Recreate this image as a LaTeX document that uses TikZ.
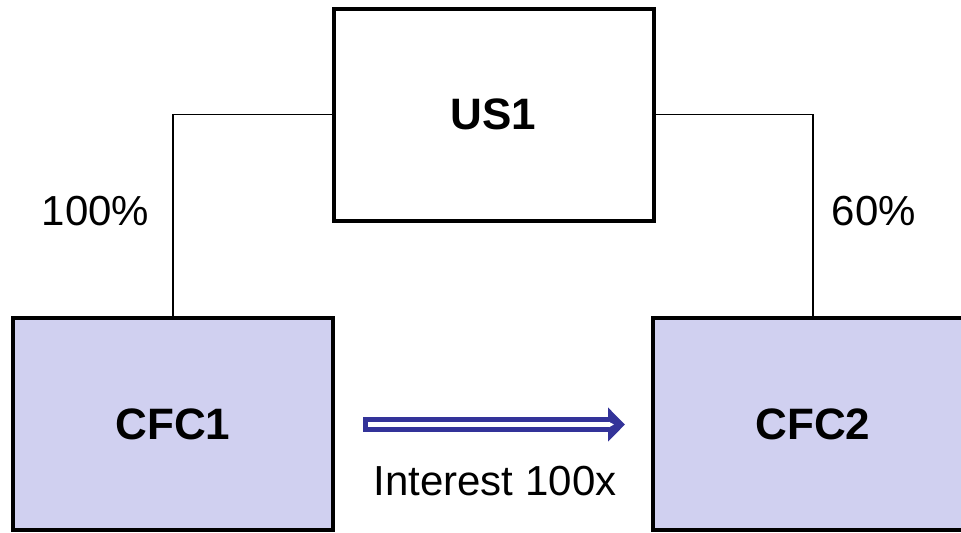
\documentclass[tikz,border=0pt]{standalone}
\usepackage{fontspec}
\setmainfont{Liberation Sans}
\usetikzlibrary{arrows.meta}
\definecolor{lavender}{HTML}{D0D0F0}
\definecolor{navyblue}{HTML}{333399}
\tikzset{
  company/.style={draw, line width=2pt, minimum width=160pt, minimum height=106pt,
    font=\fontsize{22}{26}\selectfont\bfseries},
  cfc/.style={company, fill=lavender},
  owns/.style={line width=0.65pt},
  share/.style={font=\fontsize{21}{25}\selectfont, anchor=base},
  flow/.style={navyblue, line width=7.5pt, -{Triangle[length=8.5pt,width=16.5pt]}},
  flowcore/.style={white, line width=2.5pt, shorten <=2.5pt, shorten >=5.5pt,
    -{Triangle[length=2.5pt,width=2.5pt]}}
}

\begin{document}
\begin{tikzpicture}[x=0.5pt, y=-0.5pt]

\useasboundingbox (0,0) rectangle (961,532); %% page size

\node[company] (us1) at (493.5,114.5) {US1};
\node[cfc] (cfc1) at (173,424) {CFC1};
\node[cfc] (cfc2) at (813,424) {CFC2};

%% ownership
\draw[owns] (us1.west) -| (cfc1.north);
\draw[owns] (us1.east) -| (cfc2.north);
\node[share] (p1) at (95.5,225) {100\%};
\node[share] (p2) at (874,225) {60\%};

%% interest payment
\coordinate (from) at (363,424.5);
\coordinate (to) at (625,424.5);
\draw[flow] (from) -- (to);
\draw[flowcore] (from) -- (to);
\node[share] (int) at (495,495) {Interest 100x};

\end{tikzpicture}
\end{document}
